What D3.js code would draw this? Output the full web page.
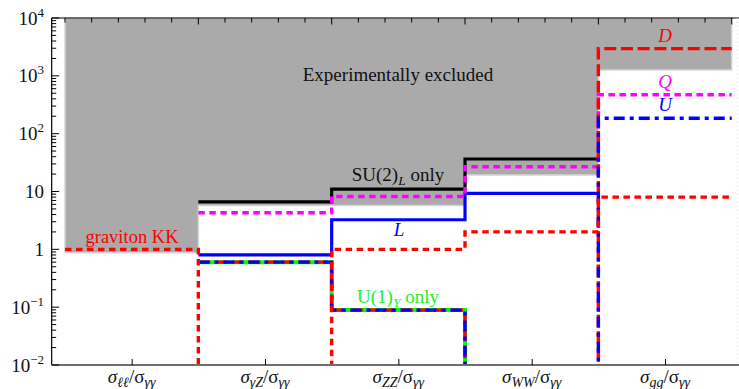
<!DOCTYPE html>
<html>
<head>
<meta charset="utf-8">
<script src="https://cdn.jsdelivr.net/npm/d3@7"></script>
<style>
  html, body { margin: 0; padding: 0; background: #fff; }
  svg { display: block; }
  text { font-family: "Liberation Serif", "DejaVu Serif", serif; }
</style>
</head>
<body>
<svg id="chart" width="739" height="389"></svg>
<script>
// Ratio categories (numerator of sigma_X / sigma_gammagamma)
const categories = ["ℓℓ", "γZ", "ZZ", "WW", "gg"];

// Upper edge of the experimentally allowed region per category
const excluded = [0.87, 5.7, 5.7, 19.3, 1260];

// Predicted ratios (null = not drawn, 0 = vanishing ratio)
const graviton = [1, 0, 1, 2, 8];
const su2Only  = [null, 6.6, 11, 36.5, null];
const u1Only   = [null, 0.6, 0.089, 0, null];
const leptonL  = [null, 0.8, 3.25, 9.3, null];
const quarkQ   = [null, 4.3, 8.2, 26.8, 470];
const quarkU   = [null, 0.6, 0.089, 0, 185];
const quarkD   = [null, 0.6, 0.089, 0, 2950];

// Decade tick values on the log axis
const yMajorTicks = [1e-2, 1e-1, 1, 10, 1e2, 1e3, 1e4];

const svg = d3.select("#chart");

const x = d3.scaleLinear().domain([0, 5]).range([65, 731.7]);
const y = d3.scaleLog().domain([1e-2, 1e4]).range([365, 18]);

const pLeft = x(-0.1), pRight = 739, pTop = y(1e4), pBottom = y(1e-2);

svg.append("defs").append("clipPath").attr("id", "plotclip")
  .append("rect").attr("x", pLeft).attr("y", pTop)
  .attr("width", pRight - pLeft).attr("height", pBottom - pTop);

// Excluded (grey) region
const exPts = [[x(0), pTop]];
excluded.forEach((v, i) => {
  exPts.push([x(i), y(v)]);
  exPts.push([x(i + 1), y(v)]);
});
exPts.push([x(5), pTop]);
svg.append("path")
  .attr("d", d3.line()(exPts) + "Z")
  .attr("fill", "#aaaaaa")
  .attr("stroke", "#d4d4d4")
  .attr("stroke-width", 1.5);

svg.append("text")
  .attr("x", 398).attr("y", 81)
  .attr("text-anchor", "middle")
  .attr("font-size", 19)
  .attr("fill", "#111")
  .text("Experimentally excluded");

// Step lines
const yVal = v => (v > 0 ? y(v) : pBottom + 30);
function stepPath(vals) {
  const pts = [];
  let last = null;
  vals.forEach((v, i) => {
    if (v !== null) { pts.push([i, v]); last = i; }
  });
  pts.push([last + 1, vals[last]]);
  return d3.line()
    .x(d => x(d[0]))
    .y(d => yVal(d[1]))
    .curve(d3.curveStepAfter)(pts);
}

const lines = svg.append("g").attr("clip-path", "url(#plotclip)");
const series = [
  { vals: su2Only,  color: "#000000", width: 3.2, dash: null },
  { vals: leptonL,  color: "#0000ff", width: 3.2, dash: null },
  { vals: quarkQ,   color: "#ff00ff", width: 3.4, dash: "6.5,4.5" },
  { vals: u1Only,   color: "#00ff00", width: 4,   dash: null },
  { vals: quarkD,   color: "#ff0000", width: 3.4, dash: "12,4.7" },
  { vals: quarkU,   color: "#0000ff", width: 3.4, dash: "11,5,4,5" },
  { vals: graviton, color: "#ff0000", width: 3.4, dash: "6.5,4.5" }
];
series.forEach(s => {
  lines.append("path")
    .attr("d", stepPath(s.vals))
    .attr("fill", "none")
    .attr("stroke", s.color)
    .attr("stroke-width", s.width)
    .attr("stroke-dasharray", s.dash);
});

// Series labels
function label(txt, px, py, color, italic, size) {
  const t = svg.append("text")
    .attr("x", px).attr("y", py)
    .attr("text-anchor", "middle")
    .attr("font-size", size || 19)
    .attr("fill", color);
  if (italic) t.attr("font-style", "italic");
  if (Array.isArray(txt)) {
    txt.forEach(part => {
      const ts = t.append("tspan").text(part.t);
      if (part.sub) ts.attr("dy", 4).attr("font-size", 13.5).attr("font-style", "italic");
      if (part.back) ts.attr("dy", -4);
    });
  } else t.text(txt);
  return t;
}
label([{ t: "SU(2)" }, { t: "L", sub: true }, { t: " only", back: true }], 398, 181, "#111");
label("L", 399, 236, "#0000ff", true);
label("graviton KK", 132, 243, "#ff0000", false, 18.5);
label([{ t: "U(1)" }, { t: "Y", sub: true }, { t: " only", back: true }], 398, 303, "#22ee22");
label("D", 665, 42, "#ff0000", true);
label("Q", 665, 88, "#ff00ff", true);
label("U", 665, 111, "#0000ff", true);

// Frame
svg.append("line").attr("x1", pLeft).attr("x2", pRight).attr("y1", pTop).attr("y2", pTop)
  .attr("stroke", "#000").attr("stroke-width", 1.2);
svg.append("line").attr("x1", pLeft).attr("x2", pLeft).attr("y1", pTop).attr("y2", pBottom)
  .attr("stroke", "#000").attr("stroke-width", 1.2);
svg.append("line").attr("x1", pLeft).attr("x2", pRight).attr("y1", pBottom).attr("y2", pBottom)
  .attr("stroke", "#6e6e6e").attr("stroke-width", 2);
svg.append("line").attr("x1", 737).attr("x2", 737).attr("y1", pTop).attr("y2", pBottom)
  .attr("stroke", "#d8d8d8").attr("stroke-width", 1).attr("stroke-dasharray", "1,3");

// Left axis ticks (inward)
const yTicks = y.ticks();
const isMajor = d => yMajorTicks.some(m => Math.abs(m - d) < 1e-9 * m);
svg.append("g").selectAll("line").data(yTicks).join("line")
  .attr("x1", pLeft)
  .attr("x2", d => pLeft + (isMajor(d) ? 7.5 : 4.5))
  .attr("y1", d => y(d)).attr("y2", d => y(d))
  .attr("stroke", "#000").attr("stroke-width", 1);

// Left axis labels
const yl = svg.append("g");
yMajorTicks.forEach(v => {
  const e = Math.round(Math.log10(v));
  const t = yl.append("text")
    .attr("x", 44).attr("y", y(v) + 6.5)
    .attr("text-anchor", "end")
    .attr("font-size", 19)
    .attr("fill", "#111");
  if (e === 0) t.text("1");
  else if (e === 1) t.text("10");
  else {
    t.append("tspan").text("10");
    t.append("tspan").attr("dy", -8).attr("font-size", 13)
      .text(e < 0 ? "\u2212" + (-e) : String(e));
  }
});

// Top axis ticks (inward); longer ticks at the bin edges 1..5
const topTicks = d3.range(0, 26).map(i => i * 0.2);
svg.append("g").selectAll("line").data(topTicks).join("line")
  .attr("x1", d => x(d)).attr("x2", d => x(d))
  .attr("y1", pTop)
  .attr("y2", d => pTop + (d > 0.5 && Math.abs(d - Math.round(d)) < 1e-6 ? 6.5 : 4.5))
  .attr("stroke", "#000").attr("stroke-width", 1);

// Bottom axis: category ticks and labels
const bottomAxis = d3.axisBottom(x)
  .tickValues(categories.map((c, i) => i + 0.5))
  .tickSizeInner(-6).tickSizeOuter(0)
  .tickFormat("");
const bg = svg.append("g").attr("transform", `translate(0,${pBottom})`).call(bottomAxis);
bg.select(".domain").remove();
bg.selectAll(".tick line").attr("stroke", "#000");

categories.forEach((c, i) => {
  const t = svg.append("text")
    .attr("x", x(i + 0.5)).attr("y", 383)
    .attr("text-anchor", "middle")
    .attr("font-size", 19)
    .attr("font-style", "italic")
    .attr("fill", "#111");
  t.append("tspan").text("σ");
  t.append("tspan").attr("dy", 4).attr("font-size", 14).text(c);
  t.append("tspan").attr("dy", -4).attr("font-style", "normal").text("/σ");
  t.append("tspan").attr("dy", 4).attr("font-size", 14).text("γγ");
});
</script>
</body>
</html>
